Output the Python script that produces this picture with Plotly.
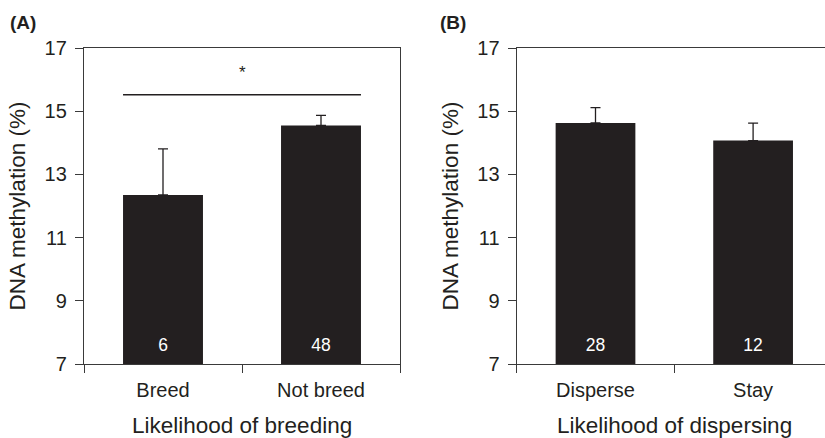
import plotly.graph_objects as go

# ---- data ----
cats_a = ["Breed", "Not breed"]
means_a = [12.35, 14.55]
err_a = [1.46, 0.32]
n_a = ["6", "48"]

cats_b = ["Disperse", "Stay"]
means_b = [14.63, 14.07]
err_b = [0.48, 0.55]
n_b = ["28", "12"]

yticks = [7, 9, 11, 13, 15, 17]
sig_y = 15.52
star_y = 16.24
n_label_y = 7.55

INK = "#231f20"
AX = "#3a3a3a"
FONT = "Liberation Sans, Arial, sans-serif"
BW = 0.506
TICKF = 20
TITLEF = 22.5

pos = [0.5, 1.5]

W, H = 825, 438
L, T, B = 84, 48, 74
PW = W - L
PH = H - T - B

fig = go.Figure()

for cats, means, err, n, xa, ya in [
    (cats_a, means_a, err_a, n_a, "x", "y"),
    (cats_b, means_b, err_b, n_b, "x2", "y2"),
]:
    fig.add_trace(go.Bar(
        x=pos, y=means, width=BW, base=0,
        marker=dict(color=INK, line=dict(width=0)),
        error_y=dict(type="data", symmetric=False, array=err,
                     arrayminus=[0] * len(err), color=INK,
                     thickness=1.3, width=5),
        xaxis=xa, yaxis=ya, showlegend=False, hoverinfo="skip",
    ))
    fig.add_trace(go.Scatter(
        x=pos, y=[n_label_y] * len(n), text=n, mode="text",
        textfont=dict(color="white", size=17.5, family=FONT),
        xaxis=xa, yaxis=ya, showlegend=False, hoverinfo="skip",
    ))

# significance line in A
fig.add_shape(type="line", xref="x", yref="y",
              x0=pos[0] - BW / 2, x1=pos[1] + BW / 2, y0=sig_y, y1=sig_y,
              line=dict(color=INK, width=1.3))
fig.add_annotation(x=1.0, y=star_y, xref="x", yref="y", text="*",
                   showarrow=False, font=dict(size=17, color=INK, family=FONT))

# panel labels (pixel positions converted to paper)
for txt, px in [("<b>(A)</b>", 8), ("<b>(B)</b>", 438)]:
    fig.add_annotation(x=(px - L) / PW, y=1 + (T - 22) / PH,
                       xref="paper", yref="paper", text=txt,
                       xanchor="left", yanchor="middle", showarrow=False,
                       font=dict(size=19, color=INK, family=FONT))

xcommon = dict(
    tickmode="array", tickvals=pos, ticks="outside", ticklen=8,
    tickcolor="rgba(0,0,0,0)", showline=True, linecolor=AX, linewidth=1.3,
    tickfont=dict(size=TICKF, color=INK, family=FONT), showgrid=False,
    zeroline=False,
    minor=dict(tickmode="array", tickvals=[0, 1, 2], ticks="outside",
               ticklen=8, tickcolor=AX, tickwidth=1.3, showgrid=False),
)
ycommon = dict(
    range=[7, 17], tickmode="array", tickvals=yticks, ticks="outside",
    ticklen=8, tickcolor=AX, tickwidth=1.3, showline=True, linecolor=AX,
    linewidth=1.3, showgrid=False, zeroline=False,
    tickfont=dict(size=TICKF, color=INK, family=FONT),
    ticklabelstandoff=4,
    title=dict(text="DNA methylation (%)",
               font=dict(size=TITLEF, color=INK, family=FONT), standoff=12),
)

dA = 316 / PW
dB0 = (516.7 - L) / PW
b_right = (825 - 516.7) / 157.6

fig.update_layout(
    width=W, height=H, margin=dict(l=L, r=0, t=T, b=B),
    plot_bgcolor="white", paper_bgcolor="white",
    font=dict(family=FONT, color=INK),
    xaxis=dict(xcommon, domain=[0, dA], range=[0, 2], mirror=True,
               ticktext=cats_a),
    yaxis=dict(ycommon, mirror=True),
    xaxis2=dict(xcommon, domain=[dB0, 1], range=[0, b_right], mirror=True,
                ticktext=cats_b, anchor="y2"),
    yaxis2=dict(ycommon, anchor="x2", mirror=False),
)

# x-axis titles centred on each panel's full width
for xa, txt in [("x", "Likelihood of breeding"), ("x2", "Likelihood of dispersing")]:
    fig.add_annotation(x=1.0, y=0, xref=xa, yref="paper", yshift=-61,
                       text=txt, showarrow=False, yanchor="middle",
                       font=dict(size=TITLEF, color=INK, family=FONT))

fig.write_html("out.html")
